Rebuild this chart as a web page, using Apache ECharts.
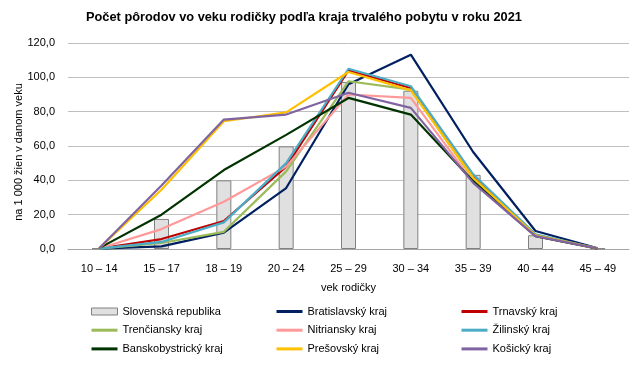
<!DOCTYPE html>
<html>
<head>
<meta charset="utf-8">
<script src="https://cdn.jsdelivr.net/npm/echarts@6/dist/echarts.min.js"></script>
<style>html,body{margin:0;padding:0;background:#fff}#c{width:642px;height:367px}</style>
</head>
<body>
<div id="c"></div>
<script>
const categories = ['10 – 14','15 – 17','18 – 19','20 – 24','25 – 29','30 – 34','35 – 39','40 – 44','45 – 49'];
const slovensko      = [0.4, 17.5, 40.0, 59.8, 97.3, 92.2, 43.2, 8.0, 0.3];
const bratislavsky   = [0.2, 1.5, 9.5, 35.5, 96.0, 113.2, 56.5, 10.5, 0.4];
const trnavsky       = [0.3, 5.8, 16.3, 48.0, 104.0, 93.8, 42.0, 8.0, 0.3];
const trenciansky    = [0.2, 3.5, 10.0, 45.2, 97.7, 92.8, 41.0, 7.8, 0.3];
const nitriansky     = [0.3, 11.6, 27.5, 48.0, 90.0, 88.0, 39.0, 7.5, 0.3];
const zilinsky       = [0.2, 4.1, 15.5, 50.0, 105.0, 94.8, 43.5, 8.5, 0.3];
const banskobystricky= [0.5, 20.0, 46.0, 66.5, 88.0, 78.3, 39.5, 7.5, 0.2];
const presovsky      = [0.4, 34.5, 74.4, 79.6, 103.1, 92.4, 41.5, 8.0, 0.3];
const kosicky        = [0.4, 37.0, 75.4, 78.3, 91.0, 82.2, 38.5, 7.5, 0.3];
const yTicks = {min: 0, max: 120, interval: 20};

const lineDefs = [
  ['Bratislavský kraj', bratislavsky, '#002060'],
  ['Trnavský kraj', trnavsky, '#C00000'],
  ['Trenčiansky kraj', trenciansky, '#9BBB59'],
  ['Nitriansky kraj', nitriansky, '#FF9999'],
  ['Žilinský kraj', zilinsky, '#4BACC6'],
  ['Banskobystrický kraj', banskobystricky, '#003300'],
  ['Prešovský kraj', presovsky, '#FFC000'],
  ['Košický kraj', kosicky, '#8064A2']
];

const series = [{
  name: 'Slovenská republika', type: 'bar', data: slovensko, barWidth: 15,
  itemStyle: {color: '#E0E0E0', borderColor: '#808080', borderWidth: 1},
  silent: true
}];
lineDefs.forEach(d => series.push({
  name: d[0], type: 'line', data: d[1], symbol: 'none', showSymbol: false,
  lineStyle: {color: d[2], width: 2.2}, itemStyle: {color: d[2]}, silent: true
}));

const legendCommon = {
  orient: 'vertical', top: 301, itemWidth: 26, itemHeight: 7, itemGap: 7.7,
  itemStyle: {opacity: 0},
  lineStyle: {width: 3},
  textStyle: {fontFamily: 'Liberation Sans', fontSize: 11, color: '#000'},
  selectedMode: false
};

const chart = echarts.init(document.getElementById('c'), null, {renderer: 'canvas'});
chart.setOption({
  animation: false,
  backgroundColor: '#fff',
  title: {
    text: 'Počet pôrodov vo veku rodičky podľa kraja trvalého pobytu v roku 2021',
    left: 81, top: 6,
    textStyle: {fontFamily: 'Liberation Sans', fontSize: 12.8, fontWeight: 'bold', color: '#000'}
  },
  legend: [
    Object.assign({}, legendCommon, {left: 85, data: [
      {name: 'Slovenská republika', icon: 'rect',
       itemStyle: {opacity: 1, color: '#E0E0E0', borderColor: '#808080', borderWidth: 1}},
      'Trenčiansky kraj', 'Banskobystrický kraj']}),
    Object.assign({}, legendCommon, {left: 270, data: ['Bratislavský kraj', 'Nitriansky kraj', 'Prešovský kraj']}),
    Object.assign({}, legendCommon, {left: 455, data: ['Trnavský kraj', 'Žilinský kraj', 'Košický kraj']})
  ],
  grid: {left: 68, right: 13, top: 43, bottom: 118, containLabel: false},
  xAxis: {
    type: 'category', data: categories, boundaryGap: true,
    name: 'vek rodičky', nameLocation: 'middle', nameGap: 33, nameMoveOverlap: false,
    nameTextStyle: {fontFamily: 'Liberation Sans', fontSize: 11, color: '#000'},
    axisLine: {lineStyle: {color: '#A6A6A6', width: 1}},
    axisTick: {show: false},
    axisLabel: {fontFamily: 'Liberation Sans', fontSize: 11, color: '#000', margin: 14, interval: 0}
  },
  yAxis: {
    type: 'value', min: yTicks.min, max: yTicks.max, interval: yTicks.interval,
    name: 'na 1 000 žien v danom veku', nameLocation: 'middle', nameGap: 44, nameRotate: 90,
    nameMoveOverlap: false,
    nameTextStyle: {fontFamily: 'Liberation Sans', fontSize: 11, color: '#000', padding: [0, 12, 0, 0]},
    axisLine: {show: false}, axisTick: {show: false},
    splitLine: {lineStyle: {color: '#BFBFBF', width: 1}},
    axisLabel: {fontFamily: 'Liberation Sans', fontSize: 11, color: '#000', margin: 13,
      formatter: v => v.toFixed(1).replace('.', ',')}
  },
  series: series
});
</script>
</body>
</html>
